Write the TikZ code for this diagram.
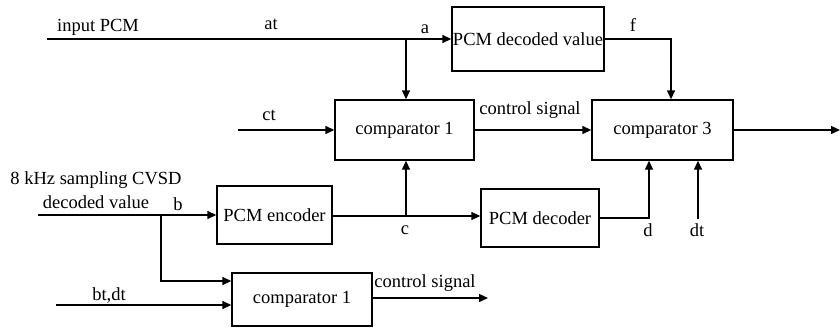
\documentclass[tikz,border=0pt]{standalone}
\usepackage{fontspec}
\setmainfont{Liberation Serif}
\usetikzlibrary{arrows.meta}
\begin{document}
\begin{tikzpicture}[x=1pt,y=-1pt,
  blk/.style={draw,line width=1.4pt,rectangle,inner sep=0pt,font=\fontsize{18.5}{21}\selectfont},
  lbl/.style={inner sep=0pt,font=\fontsize{18.5}{21}\selectfont},
  wire/.style={line width=1.4pt},
  arr/.style={wire,-{Triangle[length=9pt,width=8pt]}}]
\useasboundingbox (0,0) rectangle (840,329);

% blocks
\node[blk,minimum width=152,minimum height=64] (pdv) at (528,39) {PCM decoded value};
\node[blk,minimum width=139,minimum height=60] (cmpA) at (404.5,130) {comparator 1};
\node[blk,minimum width=141,minimum height=60] (cmpC) at (662.5,130) {comparator 3};
\node[blk,minimum width=115,minimum height=58] (enc) at (274.5,215) {PCM encoder};
\node[blk,minimum width=118,minimum height=58] (dec) at (540,218) {PCM decoder};
\node[blk,minimum width=140,minimum height=53] (cmpB) at (302,299.5) {comparator 1};

% free ends and junctions
\coordinate (inA) at (47,39);
\coordinate (ja) at (406,39);
\coordinate (ctin) at (238,130);
\coordinate (outC) at (840,130);
\coordinate (bin) at (38,215);
\coordinate (jb) at (161,215);
\coordinate (jbb) at (161,281);
\coordinate (jc) at (406,216);
\coordinate (btin) at (56,305);
\coordinate (dtin) at (698,219);
\coordinate (ctrlB) at (488,298);

% connectors
\draw[arr] (inA) -- (pdv.west);
\draw[arr] (ja) -- (ja |- cmpA.north);
\draw[arr] (pdv.east) -| ([xshift=8.5]cmpC.north);
\draw[arr] (ctin) -- (cmpA.west);
\draw[arr] (cmpA.east) -- (cmpC.west);
\draw[arr] (cmpC.east) -- (outC);
\draw[arr] (bin) -- (enc.west);
\draw[arr] (jb) -- (jbb) -- (jbb -| cmpB.west);
\draw[arr] (btin) -- (btin -| cmpB.west);
\draw[arr] (enc.east |- jc) -- (jc -| dec.west);
\draw[arr] (jc) -- (jc |- cmpA.south);
\draw[arr] (dec.east) -| ([xshift=-13.5]cmpC.south);
\draw[arr] (dtin) -- (dtin |- cmpC.south);
\draw[arr] (cmpB.east |- ctrlB) -- (ctrlB);

% signal labels
\node[lbl] (tIn) at (98,27) {input PCM};
\node[lbl] (tAt) at (271,24) {at};
\node[lbl] (tA) at (425,29) {a};
\node[lbl] (tF) at (633,25) {f};
\node[lbl] (tCt) at (269,115) {ct};
\node[lbl] (tCs) at (530,110) {control signal};
\node[lbl] (tCvsd1) at (96,180) {8 kHz sampling CVSD};
\node[lbl] (tCvsd2) at (96,202) {decoded value};
\node[lbl] (tB) at (178,204) {b};
\node[lbl] (tC) at (405,230) {c};
\node[lbl] (tD) at (648,230) {d};
\node[lbl] (tDt) at (697,230) {dt};
\node[lbl] (tBt) at (109,296) {bt,dt};
\node[lbl] (tCs2) at (425,283) {control signal};
\end{tikzpicture}
\end{document}
